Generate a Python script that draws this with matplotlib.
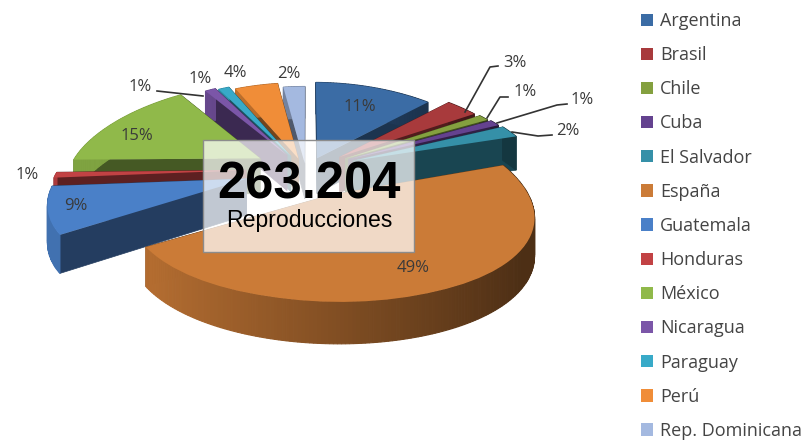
"""Exploded perspective pie: reproducciones por pais."""
import numpy as np
import matplotlib
matplotlib.use('Agg')
import matplotlib.pyplot as plt
from matplotlib.patches import Patch, Rectangle
from matplotlib.transforms import Transform

countries = ['Argentina', 'Brasil', 'Chile', 'Cuba', 'El Salvador', 'España', 'Guatemala',
             'Honduras', 'México', 'Nicaragua', 'Paraguay', 'Perú', 'Rep. Dominicana']
shares = [11, 3, 1, 1, 2, 49, 9, 1, 15, 1, 1, 4, 2]
explode = [0.17, 0.25, 0.26, 0.27, 0.28, 0.28, 0.31, 0.31, 0.29, 0.22, 0.20, 0.16, 0.10]
colors = ['#3b6ca5', '#a83a3c', '#84a03f', '#64428f', '#3590a8', '#cb7b37', '#4a80c8',
          '#c24244', '#90b94a', '#7b56a8', '#38aac8', '#f08d38', '#a4b9e0']
total = '263.204'
caption = 'Reproducciones'

# label spots in pixels, same order as shares
label_xy = [(360, 107), (515, 63), (525, 92), (582, 100), (568, 131), (413, 268), (76, 206),
            (27, 175), (137, 136), (140, 87), (200, 79), (235, 73), (289, 74)]
leaders = [[(498, 66), (490, 67), (465, 112)],
           [(508, 97), (500, 97), (487, 118)],
           [(567, 104), (557, 105), (497, 123)],
           [(552, 135), (538, 136), (512, 132)],
           [(157, 91), (203, 96)]]

CX, CY = 306, 172
B, A, K, DEPTH, Q = 195, 88, 0.12, 36, 8


def project(u, v, z=0.0):
    s = 1 + K * v
    return CX + B * u / s, CY - A * v / s + DEPTH * z / s + Q * u ** 2


class Persp(Transform):
    input_dims = 2
    output_dims = 2

    def transform_non_affine(self, values):
        x, y = project(values[:, 0], values[:, 1])
        return np.column_stack([x, y])


def shade(color, f):
    return tuple(c * f for c in matplotlib.colors.to_rgb(color))


fig = plt.figure(figsize=(8.10, 4.41), dpi=100)
ax = fig.add_axes([0, 0, 1, 1])
wedges, _ = ax.pie(shares, explode=explode, colors=colors, startangle=90, counterclock=False)
ax.set_aspect('auto')
ax.set_xlim(0, 810)
ax.set_ylim(441, 0)
ax.axis('off')

persp = Persp()
# back slices first, by the direction of each slice
order = sorted(range(len(wedges)),
               key=lambda i: -np.sin(np.radians((wedges[i].theta1 + wedges[i].theta2) / 2)))
for rank, i in enumerate(order):
    w = wedges[i]
    base = 2 + rank * 2
    w.set_transform(persp + ax.transData)
    w.set_zorder(base + 1)
    w.set_linewidth(0)
    c0, c1 = w.center
    th = np.radians(np.linspace(w.theta1, w.theta2, max(4, int(w.theta2 - w.theta1) + 2)))
    us = c0 + w.r * np.cos(th)
    vs = c1 + w.r * np.sin(th)
    # radial walls
    for j in (0, -1):
        x0, y0 = project(c0, c1)
        x1, y1 = project(us[j], vs[j])
        x2, y2 = project(us[j], vs[j], 1)
        x3, y3 = project(c0, c1, 1)
        ax.fill([x0, x1, x2, x3], [y0, y1, y2, y3], color=shade(colors[i], 0.48), lw=0.5,
                zorder=base)
    # outer rim, lighter on the left
    for j in range(len(th) - 1):
        xa, ya = project(us[j], vs[j])
        xb, yb = project(us[j + 1], vs[j + 1])
        xc, yc = project(us[j + 1], vs[j + 1], 1)
        xd, yd = project(us[j], vs[j], 1)
        f = 0.88 - 0.5 * np.clip((us[j] + 0.7) / 1.7, 0, 1)
        ax.fill([xa, xb, xc, xd], [ya, yb, yc, yd], color=shade(colors[i], f), lw=0.8,
                zorder=base)

for i, (x, y) in enumerate(label_xy):
    ax.text(x, y, f'{shares[i]}%', ha='center', va='center', fontsize=12, color='#3a3a3a',
            family='Open Sans', zorder=60)
for line in leaders:
    ax.plot([p[0] for p in line], [p[1] for p in line], color='#333333', lw=1.2, zorder=59)

ax.add_patch(Rectangle((203, 140), 211, 112, facecolor='white', alpha=0.72, edgecolor='none', zorder=70))
ax.add_patch(Rectangle((203, 140), 211, 112, facecolor='none', edgecolor='#8c8c8c', lw=1, zorder=71))
ax.text(309, 185, total, ha='center', va='center', fontsize=36.5, fontweight='bold', color='black',
        family='Liberation Sans', zorder=72)
ax.text(309, 221, caption, ha='center', va='center', fontsize=16.6, color='black',
        family='Liberation Sans', zorder=72)

handles = [Patch(facecolor=c, edgecolor='none') for c in colors]
ax.legend(handles, countries, loc='upper left', bbox_to_anchor=(641 / 810, 1 - 12 / 441), frameon=False,
          prop={'family': 'Open Sans', 'size': 13}, labelcolor='#444444', handlelength=0.67, handleheight=0.67,
          handletextpad=0.38, labelspacing=0.895, borderpad=0, borderaxespad=0)

plt.savefig('out.png', dpi=100)
plt.close()
